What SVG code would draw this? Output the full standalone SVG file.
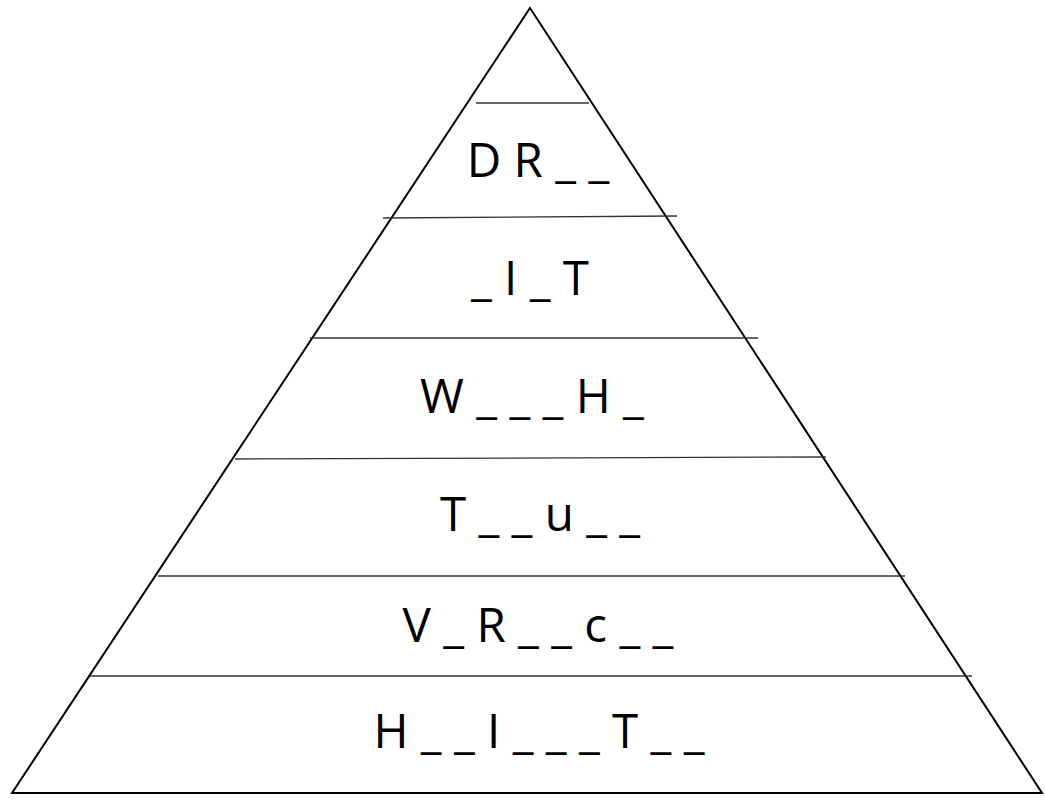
<svg xmlns="http://www.w3.org/2000/svg" width="1045" height="804" viewBox="0 0 1045 804">
<style>
.outline{fill:none;stroke:#000;stroke-width:2}
.div{stroke:#333;stroke-width:1.3}
.lbl{font-family:"Open Sans","Noto Sans",sans-serif;font-size:47.5px;fill:#000;text-anchor:middle}
</style>
<rect width="1045" height="804" fill="#fff"/>
<g id="pyramid">
<polygon class="outline" points="530,8 12,793 1042,793"/>
</g>
<g id="dividers">
<line class="div" x1="476" y1="103" x2="589" y2="103"/>
<line class="div" x1="383" y1="218" x2="677" y2="216"/>
<line class="div" x1="310" y1="338" x2="758" y2="338"/>
<line class="div" x1="235" y1="459" x2="826" y2="457"/>
<line class="div" x1="158" y1="576" x2="905" y2="576"/>
<line class="div" x1="90" y1="676" x2="972" y2="676"/>
</g>
<g id="level1"><text class="lbl" x="538" y="177">D R _ _</text></g>
<g id="level2"><text class="lbl" x="530" y="295">_ I _ T</text></g>
<g id="level3"><text class="lbl" x="532" y="413">W _ _ _ H _</text></g>
<g id="level4"><text class="lbl" x="540" y="531">T _ _ u _ _</text></g>
<g id="level5"><text class="lbl" x="538" y="642">V _ R _ _ c _ _</text></g>
<g id="level6"><text class="lbl" x="539" y="748">H _ _ I _ _ _ T _ _</text></g>
</svg>
